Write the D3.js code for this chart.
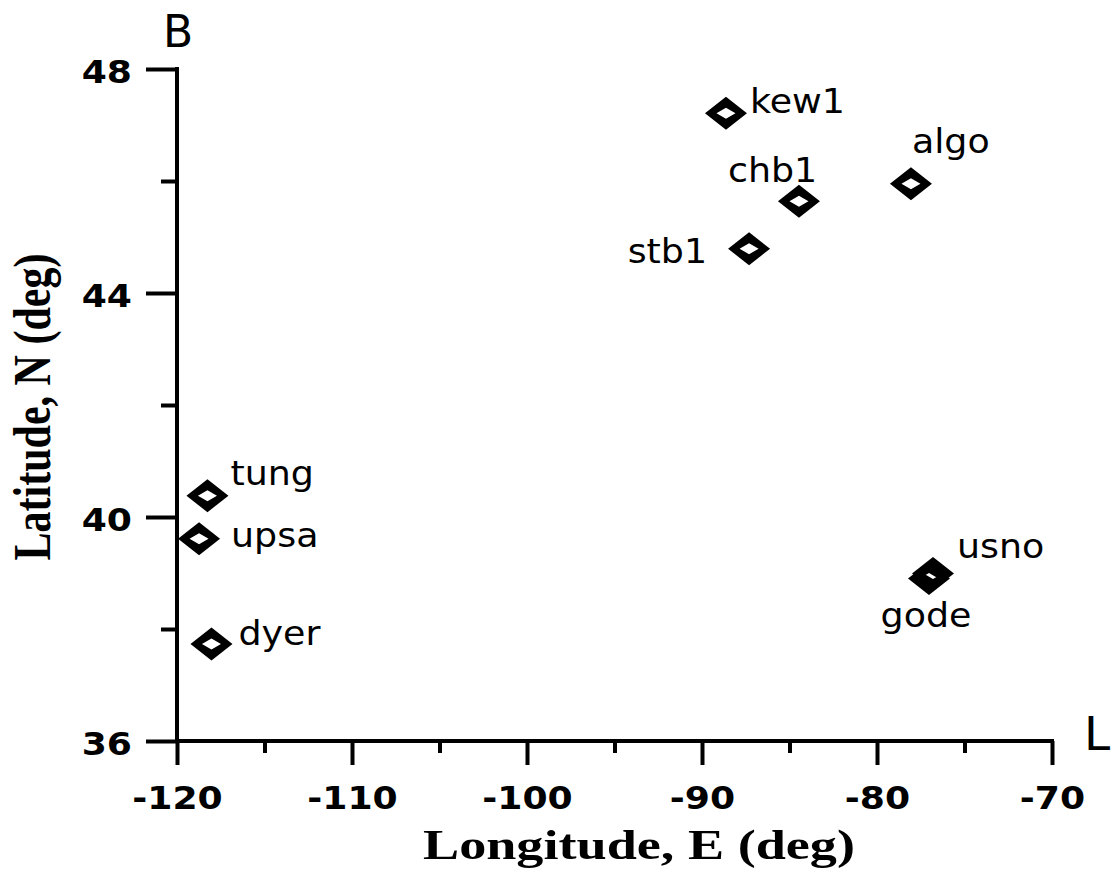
<!DOCTYPE html>
<html>
<head>
<meta charset="utf-8">
<script src="https://cdn.jsdelivr.net/npm/d3@7"></script>
<style>
  html, body { margin: 0; padding: 0; background: #fff; }
  svg { display: block; }
</style>
</head>
<body>
<svg id="chart" width="1113" height="873"></svg>
<script>
// GPS station positions (longitude east, latitude north)
const stations = ["kew1", "algo", "chb1", "stb1", "tung", "upsa", "dyer", "usno", "gode"];
const longitudes = [-88.63, -78.06, -84.46, -87.31, -118.26, -118.74, -118.03, -76.80, -77.03];
const latitudes = [47.21, 45.95, 45.64, 44.79, 40.38, 39.61, 37.73, 38.99, 38.90];

// axis ticks
const xMajorTicks = [-120, -110, -100, -90, -80, -70];
const xMinorTicks = [-115, -105, -95, -85, -75];
const yMajorTicks = [36, 40, 44, 48];
const yMinorTicks = [38, 42, 46];

// label placement around each marker
const labelPlacement = {
  kew1: { dx: 24, dy: 0, anchor: "start" },
  algo: { dx: 1, dy: -31, anchor: "start" },
  chb1: { dx: -71, dy: -19, anchor: "start" },
  stb1: { dx: -42, dy: 14, anchor: "end" },
  tung: { dx: 23, dy: -11, anchor: "start" },
  upsa: { dx: 32, dy: 8, anchor: "start" },
  dyer: { dx: 27, dy: 1, anchor: "start" },
  usno: { dx: 24, dy: -16, anchor: "start" },
  gode: { dx: -3, dy: 48, anchor: "middle" }
};

const svg = d3.select("#chart");
const plotLeft = 177, plotRight = 1052, plotTop = 69, plotBottom = 741;
const stretch = 1.13;   // horizontal widening of the tick lettering

const x = d3.scaleLinear().domain([-120, -70]).range([plotLeft, plotRight]);
const y = d3.scaleLinear().domain([36, 48]).range([plotBottom, plotTop]);

svg.append("rect").attr("width", 1113).attr("height", 873).attr("fill", "#fff");

const axisStroke = 4;

// minor ticks (drawn first, without domain line)
const xMinor = svg.append("g").attr("transform", `translate(0,${plotBottom})`)
  .call(d3.axisBottom(x).tickValues(xMinorTicks).tickSize(12).tickFormat(""));
xMinor.select(".domain").remove();
const yMinor = svg.append("g").attr("transform", `translate(${plotLeft},0)`)
  .call(d3.axisLeft(y).tickValues(yMinorTicks).tickSize(16).tickFormat(""));
yMinor.select(".domain").remove();

// major axes
const xAxis = svg.append("g").attr("transform", `translate(0,${plotBottom})`)
  .call(d3.axisBottom(x).tickValues(xMajorTicks).tickSize(24).tickSizeOuter(0)
    .tickFormat(d3.format("d")));
const yAxis = svg.append("g").attr("transform", `translate(${plotLeft},0)`)
  .call(d3.axisLeft(y).tickValues(yMajorTicks).tickSize(31).tickSizeOuter(0)
    .tickFormat(d3.format("d")));

[xMinor, yMinor, xAxis, yAxis].forEach(g => {
  g.selectAll("line").attr("stroke", "#000").attr("stroke-width", axisStroke);
  g.selectAll(".domain").attr("stroke", "#000").attr("stroke-width", axisStroke);
});

// extend the axis lines slightly so the corner closes cleanly
xAxis.select(".domain").attr("d", `M${plotLeft - 2},0H${plotRight + 2}`);
yAxis.select(".domain").attr("d", `M0,${plotTop - 2}V${plotBottom + 2}`);

xAxis.selectAll("text")
  .attr("x", null).attr("y", null).attr("dy", null)
  .attr("transform", `translate(0,68) scale(${stretch},1)`)
  .attr("text-anchor", "middle")
  .attr("fill", "#000")
  .style("font-family", "'DejaVu Sans', Verdana, sans-serif")
  .style("font-weight", "bold")
  .style("font-size", "32px")
  .text(d => String(d));

yAxis.selectAll("text")
  .attr("x", null).attr("y", null).attr("dy", null)
  .attr("transform", `translate(-45,13) scale(${stretch},1)`)
  .attr("text-anchor", "end")
  .attr("fill", "#000")
  .style("font-family", "'DejaVu Sans', Verdana, sans-serif")
  .style("font-weight", "bold")
  .style("font-size", "32px");

// axis titles
svg.append("text")
  .attr("x", 639).attr("y", 859)
  .attr("text-anchor", "middle")
  .attr("textLength", 432).attr("lengthAdjust", "spacingAndGlyphs")
  .style("font-family", "'Liberation Serif', 'Times New Roman', serif")
  .style("font-weight", "bold")
  .style("font-size", "43px")
  .text("Longitude, E (deg)");

svg.append("text")
  .attr("transform", "translate(50,407) scale(1.27,1) rotate(-90)")
  .attr("text-anchor", "middle")
  .style("font-family", "'Liberation Serif', 'Times New Roman', serif")
  .style("font-weight", "bold")
  .style("font-size", "42px")
  .text("Latitude, N (deg)");

// axis letters at the ends
svg.append("text")
  .attr("x", 163).attr("y", 47)
  .style("font-family", "'DejaVu Sans', Verdana, sans-serif")
  .style("font-size", "44px")
  .text("B");
svg.append("text")
  .attr("x", 1084).attr("y", 750)
  .style("font-family", "'DejaVu Sans', Verdana, sans-serif")
  .style("font-size", "47px")
  .text("L");

// station markers: open diamonds with a heavy outline
const diamond = "M0,-16.5L21,0L0,16.5L-21,0Z M0,-5.5L9.5,0L0,5.5L-9.5,0Z";
const pts = stations.map((s, i) => ({ name: s, lon: longitudes[i], lat: latitudes[i] }));

svg.append("g").selectAll("path")
  .data(pts)
  .join("path")
  .attr("d", diamond)
  .attr("fill-rule", "evenodd")
  .attr("fill", "#000")
  .attr("transform", d => `translate(${x(d.lon)},${y(d.lat)})`);

svg.append("g").selectAll("text")
  .data(pts)
  .join("text")
  .attr("transform", d => {
    const p = labelPlacement[d.name];
    return `translate(${x(d.lon) + p.dx},${y(d.lat) + p.dy}) scale(1.07,1)`;
  })
  .attr("text-anchor", d => labelPlacement[d.name].anchor)
  .attr("fill", "#000")
  .style("font-family", "'DejaVu Sans', Verdana, sans-serif")
  .style("font-size", "34px")
  .text(d => d.name);
</script>
</body>
</html>
